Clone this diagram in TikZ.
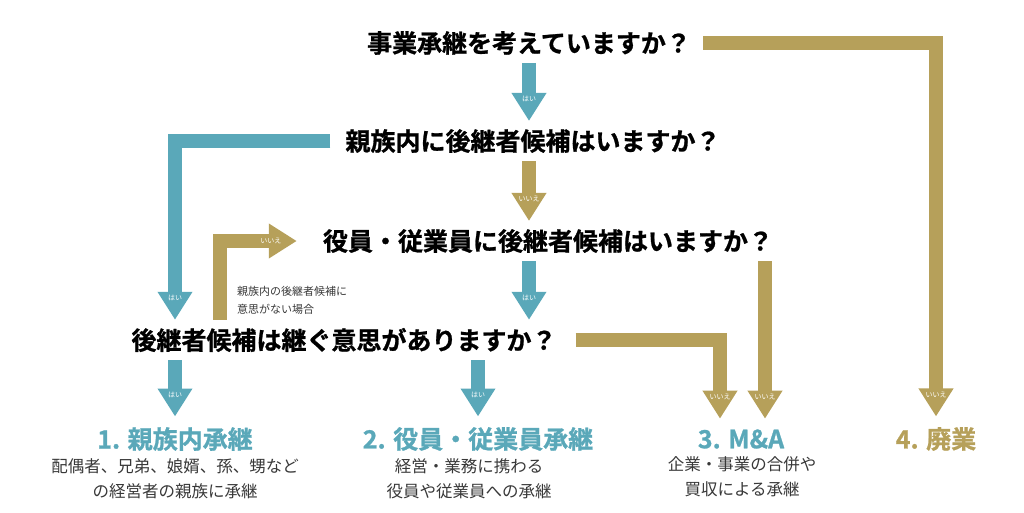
\documentclass[tikz,border=0pt]{standalone}
\usepackage{fontspec}
\newfontfamily\jpfont{Noto Sans CJK JP}[BoldFont={Noto Sans CJK JP Bold}]
\newfontfamily\jpheavy{Noto Sans CJK JP Bold}[FakeBold=1]
\usetikzlibrary{arrows.meta}
\definecolor{yesblue}{HTML}{5AA8B9}
\definecolor{nogold}{HTML}{B6A05A}
\definecolor{subgray}{HTML}{383838}

\begin{document}
\begin{tikzpicture}
    [
    x = 1pt, y = -1pt,
    font = \jpfont,
    ]
    \tikzstyle{question}=[inner xsep=0, inner ysep=8pt, font=\jpheavy\fontsize{25}{30}\selectfont]
    \tikzstyle{result}=[inner xsep=0, inner ysep=10.5pt, font=\jpheavy\fontsize{25}{30}\selectfont]
    \tikzstyle{detail}=[align=center, inner sep=0, text=subgray, font=\jpfont\fontsize{16.5}{25}\selectfont]
    \tikzstyle{note}=[align=left, inner sep=0, text=subgray, font=\jpfont\fontsize{11}{18}\selectfont]
    \tikzstyle{yes arrow}=[draw=yesblue, line width=14pt, line join=miter, -{Triangle[length=28pt, width=33pt]}]
    \tikzstyle{no arrow}=[draw=nogold, line width=14pt, line join=miter, -{Triangle[length=28pt, width=33pt]}]
    \tikzstyle{tip label}=[text=white, inner sep=0, font=\jpfont\fontsize{7}{8}\selectfont]

    \useasboundingbox (0,0) rectangle (1024,512);

    % questions
    \node[question] (q1) at (529,43) {事業承継を考えていますか？};
    \node[question] (q2) at (533,141) {親族内に後継者候補はいますか？};
    \node[question] (q3) at (548,241) {役員・従業員に後継者候補はいますか？};
    \node[question] (q4) at (344,340) {後継者候補は継ぐ意思がありますか？};

    % results
    \node[result, text=yesblue] (r1) at (175,439) {1. 親族内承継};
    \node[result, text=yesblue] (r2) at (478,439) {2. 役員・従業員承継};
    \node[result, text=yesblue] (r3) at (741,439) {3. M\&A};
    \node[result, text=nogold] (r4) at (936,439) {4. 廃業};

    \node[detail] (d1) at (175,479) {配偶者、兄弟、娘婿、孫、甥など\\の経営者の親族に承継};
    \node[detail] (d2) at (469,479) {経営・業務に携わる\\役員や従業員への承継};
    \node[detail] (d3) at (742,477) {企業・事業の合併や\\買収による承継};

    \node[note, anchor=north west] (n1) at (237,286) {親族内の後継者候補に\\意思がない場合};

    % yes
    \draw[yes arrow] (q1.south) -- (q1.south |- q2.north)
        node[at end, tip label, yshift=22pt] {はい};
    \draw[yes arrow] (q3.south -| q1.south) -- (q1.south |- q4.north)
        node[at end, tip label, yshift=22pt] {はい};
    \draw[yes arrow] ([xshift=-15pt]q2.west) -| (q4.north -| r1.north)
        node[at end, tip label, yshift=22pt] {はい};
    \draw[yes arrow] (q4.south -| r1.north) -- (r1.north)
        node[at end, tip label, yshift=22pt] {はい};
    \draw[yes arrow] (q4.south -| r2.north) -- (r2.north)
        node[at end, tip label, yshift=22pt] {はい};

    % no
    \draw[no arrow] (q2.south -| q1.south) -- (q1.south |- q3.north)
        node[at end, tip label, yshift=22pt] {いいえ};
    \draw[no arrow] ([xshift=45pt]r1.north |- q4.north) |- ([xshift=-26pt]q3.west)
        node[at end, tip label, xshift=-26pt] {いいえ};
    \draw[no arrow] ([xshift=24pt]r3.north |- q3.south) -- ([xshift=24pt]r3.north)
        node[at end, tip label, yshift=22pt] {いいえ};
    \draw[no arrow] ([xshift=19pt]q4.east) -| ([xshift=-21pt]r3.north)
        node[at end, tip label, yshift=22pt] {いいえ};
    \draw[no arrow] ([xshift=12pt]q1.east) -| (r4.north)
        node[at end, tip label, yshift=22pt] {いいえ};
\end{tikzpicture}
\end{document}
